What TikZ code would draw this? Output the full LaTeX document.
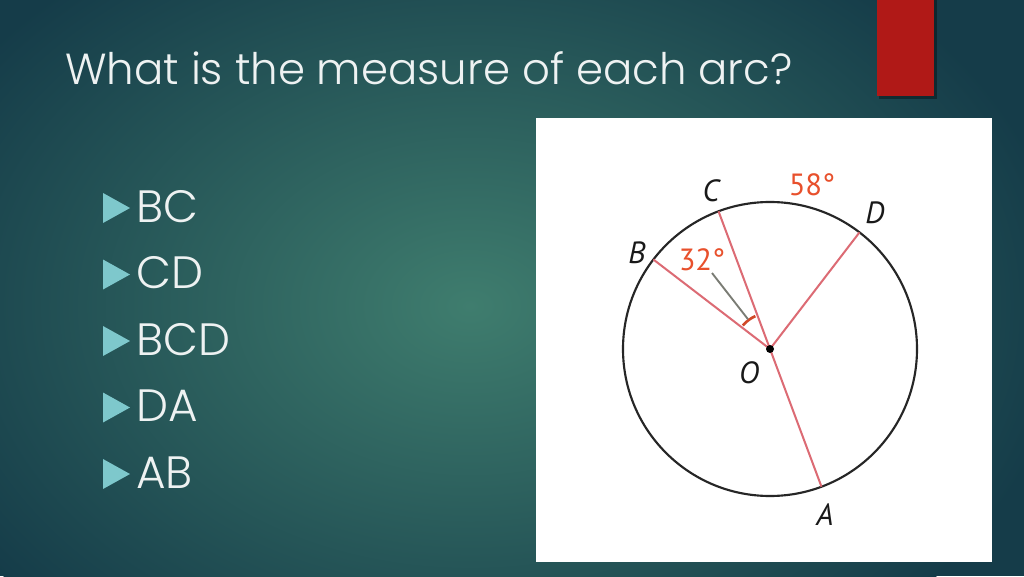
\documentclass[tikz,border=0pt]{standalone}
\usepackage{fontspec}
\usetikzlibrary{calc}
\newfontfamily\gothic{Poppins}[UprightFont={* Light}]
\newfontfamily\labfont{PT Sans}
\definecolor{bgbase}{HTML}{153C49}
\definecolor{bgmid}{HTML}{3F7D6E}
\definecolor{titlecol}{HTML}{EEF2F2}
\definecolor{bulletcol}{HTML}{7EC8CC}
\definecolor{redrect}{HTML}{B01917}
\definecolor{raycol}{HTML}{DC6B74}
\definecolor{labred}{HTML}{E8502C}
\definecolor{leadcol}{HTML}{7A7C74}
\tikzset{
  titletext/.style={anchor=base west, text=titlecol, inner sep=0pt, font=\gothic\fontsize{32.6}{38}\selectfont},
  itemtext/.style={anchor=base west, text=titlecol, inner sep=0pt, font=\gothic\fontsize{34}{40}\selectfont},
  bulletmark/.style={fill=bulletcol},
  circline/.style={draw=black!85, line width=1.6pt},
  ray/.style={draw=raycol, line width=1.5pt},
  anglemark/.style={draw=labred!90!black, line width=2pt},
  leader/.style={draw=leadcol, line width=1.4pt},
  ptlabel/.style={inner sep=0pt, font=\labfont\itshape\fontsize{23}{26}\selectfont, text=black!90},
  deglabel/.style={inner sep=0pt, font=\labfont\fontsize{23}{26}\selectfont, text=labred},
}
\begin{document}
\begin{tikzpicture}[x=0.75pt,y=0.75pt]
\useasboundingbox (0,0) rectangle (1024,576);
\fill[bgbase] (0,0) rectangle (1024,576);
\begin{scope}
\clip (0,0) rectangle (1024,576);
\shade[inner color=bgmid, outer color=bgbase] (470,270) ellipse (600 and 430);
\end{scope}
% red tab
\fill[black,opacity=0.35] (879,477) rectangle (937,576);
\fill[redrect] (877,480) rectangle (934,576);
% title
\node[titletext] (title) at (65,491) {What is the measure of each arc?};
% bullets
\foreach \b/\t [count=\i] in {222/BC,288.5/CD,355/BCD,421.5/DA,488/AB}{
  \fill[bulletmark] (103,576-\b+29) -- (130,576-\b+14) -- (103,576-\b-1) -- cycle;
  \node[itemtext] (item\i) at (136,576-\b) {\t};
}
% figure
\fill[white] (536,14) rectangle (992,458);
\coordinate (O) at (770,227);
\coordinate (B) at ($(O)+(142.5:147)$);
\coordinate (C) at ($(O)+(110.5:147)$);
\coordinate (D) at ($(O)+(52.5:147)$);
\coordinate (A) at ($(O)+(-69.5:147)$);
\coordinate (M) at ($(O)+(126.5:37)$);
\draw[circline] (O) circle (147);
\draw[ray] (O) -- (B);
\draw[ray] (C) -- (A);
\draw[ray] (O) -- (D);
\draw[anglemark] ($(O)+(114:36)$) arc (114:139:36);
\node[deglabel] (l32) at (702,316) {32°};
\coordinate (L) at (712,303);
\draw[leader] (L) -- (M);
\fill[black] (O) circle (4);
\node[ptlabel] (lC) at (711,385) {C};
\node[deglabel] (l58) at (812,391) {58°};
\node[ptlabel] (lD) at (875,363) {D};
\node[ptlabel] (lB) at (637,323) {B};
\node[ptlabel] (lO) at (749,203) {O};
\node[ptlabel] (lA) at (825,61) {A};
\end{tikzpicture}
\end{document}
